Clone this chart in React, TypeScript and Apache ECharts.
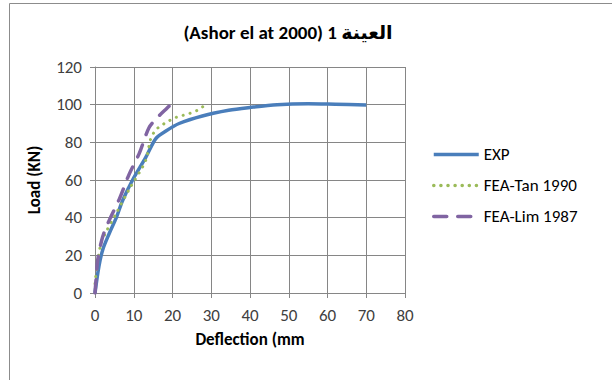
import React, { useEffect, useRef } from "react";
import * as echarts from "echarts";

const titleText = "(Ashor el at 2000) 1 العينة";
const seriesNames = ["EXP", "FEA-Tan 1990", "FEA-Lim 1987"];

const expX = [0, 1, 2, 3.7, 5.5, 7.1, 9.7, 13.1, 15.7, 18.3, 21.7, 27.7, 34.5, 40, 47, 55, 62, 70];
const expY = [0, 14, 23, 31.7, 40, 49, 60, 72, 82, 86, 90, 94, 97, 98.5, 100, 100.5, 100.2, 99.8];

const tanX = [0, 0.3, 1.5, 3, 5.4, 8.8, 13, 14.4, 15.7, 17.1, 18.9, 20.6, 22.5, 24.5, 26.6, 28.4];
const tanY = [5, 10.5, 26, 33, 42, 55, 70, 82, 86.6, 88.9, 91.2, 93, 94.2, 95.4, 97.2, 99.8];

const limX = [0, 0.3, 0.7, 2, 3.7, 6.3, 8.8, 11.4, 14, 16.5, 18.5, 19.5];
const limY = [0, 8, 17.6, 30, 38.7, 50, 63, 74, 88, 94, 98, 100];

const xTicks = { min: 0, max: 80, interval: 10 };
const yTicks = { min: 0, max: 120, interval: 20 };

const zip = (xs: number[], ys: number[]) => xs.map((x, i) => [x, ys[i]]);

export default function App() {
  const ref = useRef<HTMLDivElement>(null);
  useEffect(() => {
    document.body.style.margin = "0";
    const chart = echarts.init(ref.current!, null, { renderer: "svg" });
    const font = "Carlito, 'Open Sans', 'DejaVu Sans', sans-serif";
    chart.setOption({
      animation: false,
      backgroundColor: "#fff",
      textStyle: { fontFamily: font },
      title: {
        text: titleText,
        left: 283,
        top: 18,
        textAlign: "center",
        textStyle: { fontSize: 19, fontWeight: "bold", color: "#000", fontFamily: font },
      },
      graphic: [
        {
          type: "rect",
          shape: { x: 9.5, y: 3.5, width: 800, height: 600 },
          style: { fill: "none", stroke: "#8c8c8c", lineWidth: 1 },
          silent: true,
        },
      ],
      legend: {
        orient: "vertical",
        left: 427,
        top: 141,
        itemWidth: 45,
        itemHeight: 14,
        itemGap: 14,
        itemStyle: { opacity: 0 },
        lineStyle: { width: 3.5 },
        textStyle: { fontSize: 17, color: "#000", fontFamily: font },
        data: seriesNames,
      },
      grid: { left: 95, top: 67, right: 207, bottom: 87 },
      xAxis: {
        type: "value",
        ...xTicks,
        name: "Deflection (mm",
        nameLocation: "middle",
        nameGap: 38,
        nameTextStyle: { fontSize: 17, fontWeight: "bold", color: "#000" },
        axisLine: { show: true, lineStyle: { color: "#868686" } },
        axisTick: { show: true, length: 5, lineStyle: { color: "#868686" } },
        axisLabel: { fontSize: 17, color: "#404040", margin: 14 },
        splitLine: { show: true, lineStyle: { color: "#868686", width: 1 } },
      },
      yAxis: {
        type: "value",
        ...yTicks,
        name: "Load (KN)",
        nameLocation: "middle",
        nameGap: 52,
        nameTextStyle: { fontSize: 17, fontWeight: "bold", color: "#000" },
        axisLine: { show: true, lineStyle: { color: "#868686" } },
        axisTick: { show: true, length: 5, lineStyle: { color: "#868686" } },
        axisLabel: { fontSize: 17, color: "#404040", margin: 13 },
        splitLine: { show: true, lineStyle: { color: "#868686", width: 1 } },
      },
      series: [
        {
          name: seriesNames[0],
          type: "line",
          data: zip(expX, expY),
          smooth: 0.3,
          symbol: "none",
          lineStyle: { color: "#4a7ebb", width: 3.5 },
          itemStyle: { color: "#4a7ebb" },
          z: 2,
        },
        {
          name: seriesNames[1],
          type: "line",
          data: zip(tanX, tanY),
          smooth: 0.3,
          symbol: "none",
          lineStyle: { color: "#9bbb59", width: 3, type: [0.1, 7], cap: "round" },
          itemStyle: { color: "#9bbb59" },
          z: 3,
        },
        {
          name: seriesNames[2],
          type: "line",
          data: zip(limX, limY),
          smooth: 0.3,
          symbol: "none",
          lineStyle: { color: "#8064a2", width: 3.5, type: [13, 11], cap: "round" },
          itemStyle: { color: "#8064a2" },
          z: 4,
        },
      ],
    });
    return () => chart.dispose();
  }, []);
  return <div ref={ref} style={{ width: 612, height: 380 }} />;
}
